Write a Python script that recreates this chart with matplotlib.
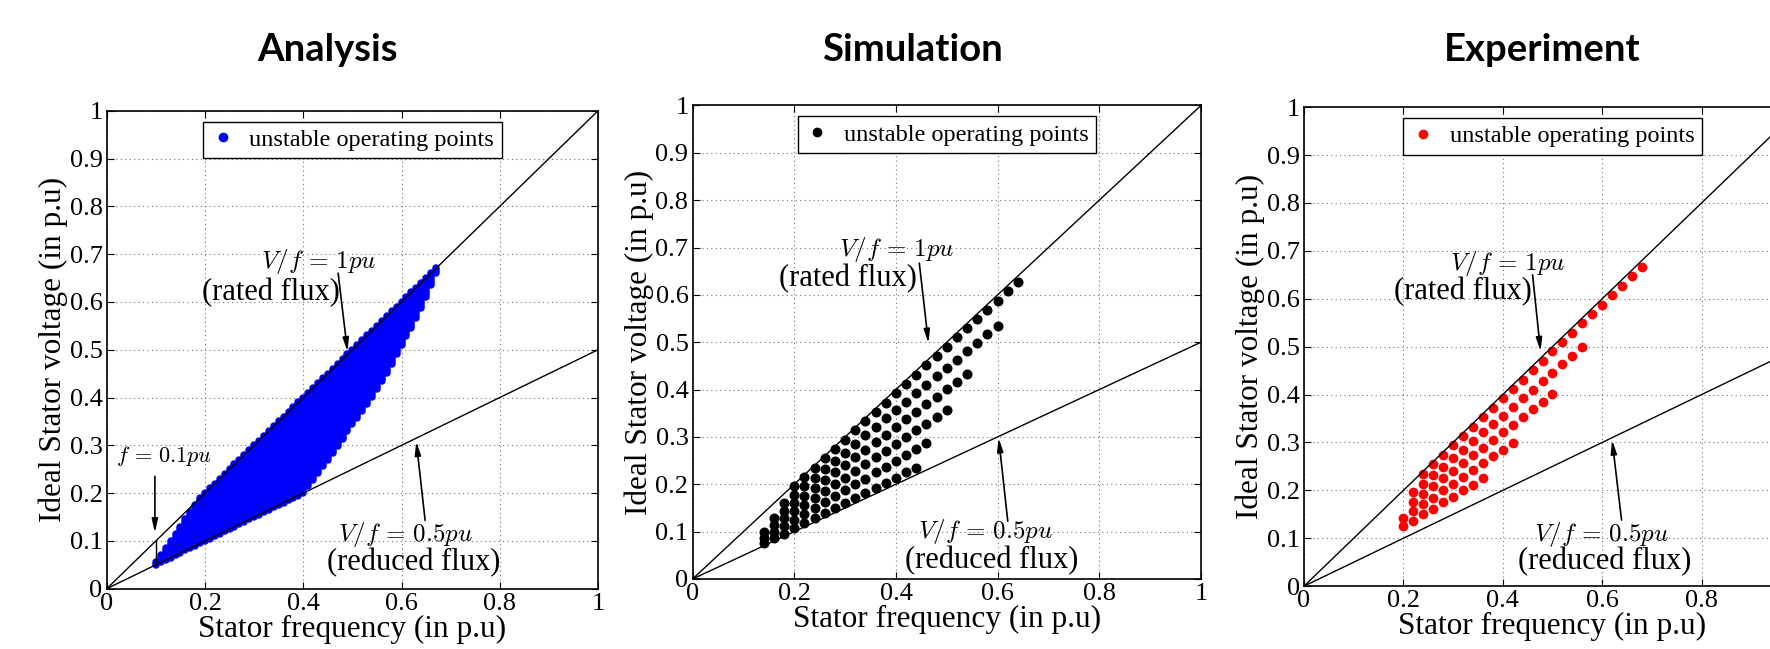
import numpy as np
import matplotlib.pyplot as plt
from matplotlib.lines import Line2D

plt.rcParams["font.family"] = "Liberation Serif"
plt.rcParams["mathtext.fontset"] = "cm"

# ---- analysis: unstable region, one column of points per frequency step
ana_f = [0.10, 0.11, 0.12, 0.13, 0.14, 0.15, 0.16, 0.17, 0.18, 0.19,
         0.20, 0.21, 0.22, 0.23, 0.24, 0.25, 0.26, 0.27, 0.28, 0.29,
         0.30, 0.31, 0.32, 0.33, 0.34, 0.35, 0.36, 0.37, 0.38, 0.39,
         0.40, 0.41, 0.42, 0.43, 0.44, 0.45, 0.46, 0.47, 0.48, 0.49,
         0.50, 0.51, 0.52, 0.53, 0.54, 0.55, 0.56, 0.57, 0.58, 0.59,
         0.60, 0.61, 0.62, 0.63, 0.64, 0.65, 0.66, 0.67]
ana_vmin = [0.050, 0.055, 0.060, 0.065, 0.070, 0.075, 0.080, 0.085, 0.090, 0.095,
            0.100, 0.105, 0.110, 0.115, 0.120, 0.125, 0.130, 0.135, 0.140, 0.145,
            0.150, 0.155, 0.160, 0.165, 0.170, 0.175, 0.180, 0.185, 0.190, 0.195,
            0.200, 0.215, 0.228, 0.242, 0.256, 0.270, 0.284, 0.299, 0.314, 0.329,
            0.344, 0.358, 0.372, 0.386, 0.402, 0.418, 0.434, 0.452, 0.470, 0.490,
            0.510, 0.528, 0.546, 0.566, 0.588, 0.610, 0.635, 0.660]
ana_vmax = [0.055, 0.070, 0.085, 0.100, 0.115, 0.130, 0.145, 0.160, 0.175, 0.190,
            0.200, 0.210, 0.220, 0.230, 0.240, 0.250, 0.260, 0.270, 0.280, 0.290,
            0.300, 0.310, 0.320, 0.330, 0.340, 0.350, 0.360, 0.370, 0.380, 0.390,
            0.400, 0.410, 0.420, 0.430, 0.440, 0.450, 0.460, 0.470, 0.480, 0.490,
            0.500, 0.510, 0.520, 0.530, 0.540, 0.550, 0.560, 0.570, 0.580, 0.590,
            0.600, 0.610, 0.620, 0.630, 0.640, 0.650, 0.660, 0.670]

# ---- simulation: unstable points, row by row
sim_f = [
    [0.14, 0.16, 0.18, 0.20, 0.22, 0.24, 0.26, 0.28, 0.30, 0.32, 0.34, 0.36, 0.38, 0.40, 0.42, 0.44],
    [0.14, 0.16, 0.18, 0.20, 0.22, 0.24, 0.26, 0.28, 0.30, 0.32, 0.34, 0.36, 0.38, 0.40, 0.42, 0.44, 0.46],
    [0.14, 0.16, 0.18, 0.20, 0.22, 0.24, 0.26, 0.28, 0.30, 0.32, 0.34, 0.36, 0.38, 0.40, 0.42, 0.44, 0.46,
     0.48, 0.50],
    [0.16, 0.18, 0.20, 0.22, 0.24, 0.26, 0.28, 0.30, 0.32, 0.34, 0.36, 0.38, 0.40, 0.42, 0.44, 0.46, 0.48,
     0.50, 0.52, 0.54],
    [0.18, 0.20, 0.22, 0.24, 0.26, 0.28, 0.30, 0.32, 0.34, 0.36, 0.38, 0.40, 0.42, 0.44, 0.46, 0.48, 0.50,
     0.52, 0.54, 0.56, 0.58, 0.60],
    [0.20, 0.22, 0.24, 0.26, 0.28, 0.30, 0.32, 0.34, 0.36, 0.38, 0.40, 0.42, 0.44, 0.46, 0.48, 0.50, 0.52,
     0.54, 0.56, 0.58, 0.60, 0.62, 0.64],
]
sim_v = [
    [0.075, 0.086, 0.096, 0.107, 0.118, 0.128, 0.139, 0.150, 0.161, 0.171, 0.182, 0.193, 0.203, 0.214,
     0.225, 0.235],
    [0.087, 0.100, 0.112, 0.125, 0.137, 0.150, 0.162, 0.175, 0.187, 0.200, 0.212, 0.225, 0.237, 0.250,
     0.262, 0.275, 0.287],
    [0.100, 0.114, 0.128, 0.143, 0.157, 0.171, 0.185, 0.200, 0.214, 0.228, 0.242, 0.257, 0.271, 0.285,
     0.299, 0.314, 0.328, 0.342, 0.357],
    [0.128, 0.144, 0.160, 0.176, 0.192, 0.209, 0.225, 0.241, 0.257, 0.273, 0.289, 0.305, 0.321, 0.337,
     0.353, 0.369, 0.385, 0.401, 0.417, 0.433],
    [0.160, 0.178, 0.196, 0.214, 0.232, 0.249, 0.267, 0.285, 0.303, 0.321, 0.339, 0.356, 0.374, 0.392,
     0.410, 0.428, 0.446, 0.463, 0.481, 0.499, 0.517, 0.535],
    [0.196, 0.216, 0.235, 0.255, 0.274, 0.294, 0.314, 0.333, 0.353, 0.372, 0.392, 0.412, 0.431, 0.451,
     0.470, 0.490, 0.510, 0.529, 0.549, 0.568, 0.588, 0.608, 0.627],
]

# ---- experiment: measured unstable points, row by row
exp_f = [
    [0.20, 0.22, 0.24, 0.26, 0.28, 0.30, 0.32, 0.34, 0.36],
    [0.20, 0.22, 0.24, 0.26, 0.28, 0.30, 0.32, 0.34, 0.36, 0.38, 0.40, 0.42],
    [0.22, 0.24, 0.26, 0.28, 0.30, 0.32, 0.34, 0.36, 0.38, 0.40, 0.42, 0.44, 0.46, 0.48, 0.50],
    [0.22, 0.24, 0.26, 0.28, 0.30, 0.32, 0.34, 0.36, 0.38, 0.40, 0.42, 0.44, 0.46, 0.48, 0.50, 0.52,
     0.54, 0.56],
    [0.24, 0.26, 0.28, 0.30, 0.32, 0.34, 0.36, 0.38, 0.40, 0.42, 0.44, 0.46, 0.48, 0.50, 0.52, 0.54,
     0.56, 0.58, 0.60, 0.62, 0.64, 0.66, 0.68],
]
exp_v = [
    [0.125, 0.137, 0.150, 0.162, 0.175, 0.187, 0.200, 0.212, 0.225],
    [0.143, 0.157, 0.171, 0.185, 0.200, 0.214, 0.228, 0.242, 0.257, 0.271, 0.285, 0.299],
    [0.176, 0.192, 0.209, 0.225, 0.241, 0.257, 0.273, 0.289, 0.305, 0.321, 0.337, 0.353, 0.369, 0.385,
     0.401],
    [0.196, 0.214, 0.232, 0.249, 0.267, 0.285, 0.303, 0.321, 0.339, 0.356, 0.374, 0.392, 0.410, 0.428,
     0.446, 0.463, 0.481, 0.499],
    [0.235, 0.255, 0.274, 0.294, 0.314, 0.333, 0.353, 0.372, 0.392, 0.412, 0.431, 0.451, 0.470, 0.490,
     0.510, 0.529, 0.549, 0.568, 0.588, 0.608, 0.627, 0.647, 0.666],
]

# constant V/f reference lines
line_f = [0.0, 1.0]
rated_ratio = 1.0
reduced_ratio = 0.5

x_ticks = [0, 0.2, 0.4, 0.6, 0.8, 1]
x_tick_labels = ["0", "0.2", "0.4", "0.6", "0.8", "1"]
y_ticks = [0, 0.1, 0.2, 0.3, 0.4, 0.5, 0.6, 0.7, 0.8, 0.9, 1]
y_tick_labels = ["0", "0.1", "0.2", "0.3", "0.4", "0.5", "0.6", "0.7", "0.8", "0.9", "1"]

titles = ["Analysis", "Simulation", "Experiment"]
title_x = [0.185, 0.5153, 0.8712]

BLUE = "#0000ff"
RED = "#ff0000"
ARROW = dict(arrowstyle="-|>,head_width=0.18,head_length=0.8",
             color="k", lw=1.2, shrinkA=0, shrinkB=0)


def base_axes(ax):
    ax.set_xlim(0, 1)
    ax.set_ylim(0, 1)
    ax.set_xticks(x_ticks)
    ax.set_xticklabels(x_tick_labels)
    ax.set_yticks(y_ticks)
    ax.set_yticklabels(y_tick_labels)
    ax.tick_params(direction="in", length=5, width=0.8, labelsize=19, pad=3,
                   top=True, right=True)
    ax.grid(True, linestyle=(0, (1, 3)), color="0.45", linewidth=0.8)
    for sp in ax.spines.values():
        sp.set_linewidth(1.2)
    ax.set_xlabel("Stator frequency (in p.u)", fontsize=22.5, labelpad=0)
    ax.set_ylabel("Ideal Stator voltage (in p.u)", fontsize=22.5, labelpad=1)
    ax.plot(line_f, [rated_ratio * f for f in line_f], color="k", lw=1.0, zorder=4)
    ax.plot(line_f, [reduced_ratio * f for f in line_f], color="k", lw=1.0, zorder=4)


def flux_notes(ax, rated_txt, rated_lbl, rated_arrow, reduced_txt, reduced_lbl, reduced_arrow):
    ax.text(*rated_txt, r"$V/f\,=\,1pu$", fontsize=18, ha="center", va="center", zorder=6)
    ax.text(*rated_lbl, "(rated flux)", fontsize=22, ha="center", va="center", zorder=6)
    ax.annotate("", xy=rated_arrow[1], xytext=rated_arrow[0], zorder=6, arrowprops=ARROW)
    ax.text(*reduced_txt, r"$V/f\,=\,0.5pu$", fontsize=18, ha="center", va="center", zorder=6)
    ax.text(*reduced_lbl, "(reduced flux)", fontsize=22, ha="center", va="center", zorder=6)
    ax.annotate("", xy=reduced_arrow[1], xytext=reduced_arrow[0], zorder=6, arrowprops=ARROW)


def add_legend(ax, color):
    h = Line2D([], [], marker="o", linestyle="none", color=color, markersize=6)
    leg = ax.legend([h], ["unstable operating points"], loc="upper center", fontsize=17.5,
                    handlelength=1.0, handletextpad=0.6, borderpad=0.3, borderaxespad=0.45,
                    fancybox=False, framealpha=1, edgecolor="k")
    leg.get_frame().set_linewidth(1.0)


fig = plt.figure(figsize=(17.7, 6.49), dpi=100)
ax_a = fig.add_axes([0.0603, 0.0929, 0.2776, 0.7365])
ax_s = fig.add_axes([0.3913, 0.1079, 0.2872, 0.7296])
ax_e = fig.add_axes([0.7367, 0.0968, 0.2808, 0.7381])

# Analysis
base_axes(ax_a)
for f, lo, hi in zip(ana_f, ana_vmin, ana_vmax):
    ax_a.plot([f, f], [lo, hi], color=BLUE, lw=5.4, solid_capstyle="round", zorder=3)
ax_a.plot([0.1, 0.1], [0.05, 0.1], color="k", lw=1.0, zorder=4)
ax_a.text(0.116, 0.278, r"$f\,=\,0.1pu$", fontsize=16, ha="center", va="center")
ax_a.annotate("", xy=(0.098, 0.117), xytext=(0.098, 0.235), arrowprops=ARROW)
flux_notes(ax_a, (0.431, 0.684), (0.335, 0.62), [(0.471, 0.66), (0.49, 0.496)],
           (0.608, 0.113), (0.624, 0.054), [(0.648, 0.143), (0.630, 0.308)])
add_legend(ax_a, BLUE)

# Simulation
base_axes(ax_s)
for fr, vr in zip(sim_f, sim_v):
    ax_s.plot(fr, vr, "o", color="k", markersize=6.2, zorder=3)
flux_notes(ax_s, (0.4015, 0.695), (0.305, 0.635), [(0.446, 0.667), (0.464, 0.498)],
           (0.577, 0.0995), (0.588, 0.038), [(0.62, 0.122), (0.602, 0.298)])
add_legend(ax_s, "k")

# Experiment (right edge of this panel runs past the canvas)
base_axes(ax_e)
ax_e.get_xticklabels()[-1].set_visible(False)
for fr, vr in zip(exp_f, exp_v):
    ax_e.plot(fr, vr, "o", color=RED, markersize=6.0, zorder=3)
flux_notes(ax_e, (0.411, 0.674), (0.3205, 0.616), [(0.46, 0.65), (0.476, 0.49)],
           (0.598, 0.108), (0.605, 0.051), [(0.639, 0.138), (0.62, 0.305)])
add_legend(ax_e, RED)

for t, x in zip(titles, title_x):
    fig.text(x, 0.906, t, fontsize=27.5, fontweight="bold", family="Lato",
             ha="center", va="baseline")

fig.savefig("out.png", dpi=100)
